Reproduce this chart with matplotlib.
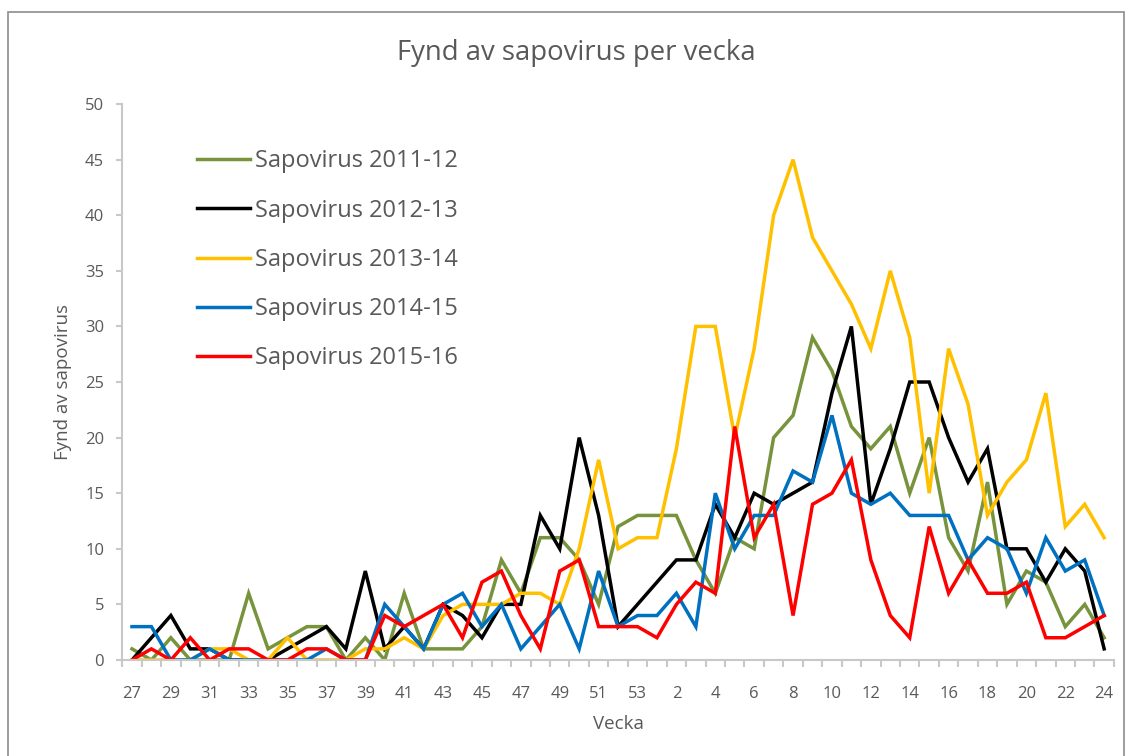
import matplotlib
matplotlib.use('Agg')
import matplotlib.pyplot as plt
from matplotlib.patches import Rectangle

plt.rcParams['font.family'] = ['Open Sans', 'DejaVu Sans']

#Weeks: 27-53 then 1-24
weeks = [str(w) for w in range(27, 54)] + [str(w) for w in range(1, 25)]

sapo_2011 = [1, 0, 2, 0, 0, 0, 6, 1, 2, 3, 3, 0, 2, 0, 6, 1, 1, 1, 3, 9, 6, 11, 11, 9, 5, 12, 13,
             13, 13, 9, 6, 11, 10, 20, 22, 29, 26, 21, 19, 21, 15, 20, 11, 8, 16, 5, 8, 7, 3, 5, 2]
sapo_2012 = [0, 2, 4, 1, 1, 0, 0, 0, 1, 2, 3, 1, 8, 1, 3, 1, 5, 4, 2, 5, 5, 13, 10, 20, 13, 3, 5,
             7, 9, 9, 14, 11, 15, 14, 15, 16, 24, 30, 14, 19, 25, 25, 20, 16, 19, 10, 10, 7, 10, 8, 1]
sapo_2013 = [0, 0, 0, 0, 1, 1, 0, 0, 2, 0, 0, 0, 1, 1, 2, 1, 4, 5, 5, 5, 6, 6, 5, 10, 18, 10, 11,
             11, 19, 30, 30, 20, 28, 40, 45, 38, 35, 32, 28, 35, 29, 15, 28, 23, 13, 16, 18, 24, 12, 14, 11]
sapo_2014 = [3, 3, 0, 0, 1, 0, 0, 0, 0, 0, 1, 0, 0, 5, 3, 1, 5, 6, 3, 5, 1, 3, 5, 1, 8, 3, 4,
             4, 6, 3, 15, 10, 13, 13, 17, 16, 22, 15, 14, 15, 13, 13, 13, 9, 11, 10, 6, 11, 8, 9, 4]
sapo_2015 = [0, 1, 0, 2, 0, 1, 1, 0, 0, 1, 1, 0, 0, 4, 3, 4, 5, 2, 7, 8, 4, 1, 8, 9, 3, 3, 3,
             2, 5, 7, 6, 21, 11, 14, 4, 14, 15, 18, 9, 4, 2, 12, 6, 9, 6, 6, 7, 2, 2, 3, 4]

series = [('Sapovirus 2011-12', sapo_2011, '#77933C'),
          ('Sapovirus 2012-13', sapo_2012, '#000000'),
          ('Sapovirus 2013-14', sapo_2013, '#FFC000'),
          ('Sapovirus 2014-15', sapo_2014, '#0070C0'),
          ('Sapovirus 2015-16', sapo_2015, '#FF0000')]

txt_color = '#595959'
axis_color = '#C8C8C8'

fig = plt.figure(figsize=(11.32, 7.56), dpi=100)
ax = fig.add_axes([0.108, 0.127, 0.876, 0.7354])

x = list(range(len(weeks)))
for name, vals, col in series:
    ax.plot(x, vals, color=col, lw=2.5, label=name, solid_joinstyle='miter')

ax.set_xlim(-0.5, len(weeks) - 0.5)
ax.set_ylim(0, 50)
ax.set_yticks(range(0, 51, 5))
ax.set_xticks(x[::2])
ax.set_xticklabels(weeks[::2])
ax.set_xticks([i - 0.5 for i in range(len(weeks) + 1)], minor=True)

for s in ['top', 'right']:
    ax.spines[s].set_visible(False)
for s in ['left', 'bottom']:
    ax.spines[s].set_color(axis_color)
    ax.spines[s].set_linewidth(1.5)

ax.tick_params(axis='x', which='major', length=0, pad=19, labelsize=12, labelcolor=txt_color)
ax.tick_params(axis='x', which='minor', length=5, width=1.5, color=axis_color)
ax.tick_params(axis='y', length=4, width=1.5, color=axis_color, pad=9, labelsize=12, labelcolor=txt_color)

ax.set_xlabel('Vecka', fontsize=13.5, color=txt_color, labelpad=9)
ax.set_ylabel('Fynd av sapovirus', fontsize=13.5, color=txt_color, labelpad=9)

fig.text(0.509, 0.930, 'Fynd av sapovirus per vecka', ha='center', va='center',
         fontsize=19.8, color=txt_color)

leg = ax.legend(loc='upper left', bbox_to_anchor=(0.166, 0.815), bbox_transform=fig.transFigure,
                frameon=False, fontsize=17, handlelength=2.25, handletextpad=0.2,
                labelspacing=1.07, borderaxespad=0)
for t in leg.get_texts():
    t.set_color(txt_color)

#Outer chart border
fig.patches.append(Rectangle((0.007, -0.02), 0.986, 1.004, transform=fig.transFigure,
                             fill=False, edgecolor='#8C8C8C', lw=1.2))

fig.savefig('out.png', dpi=100)
